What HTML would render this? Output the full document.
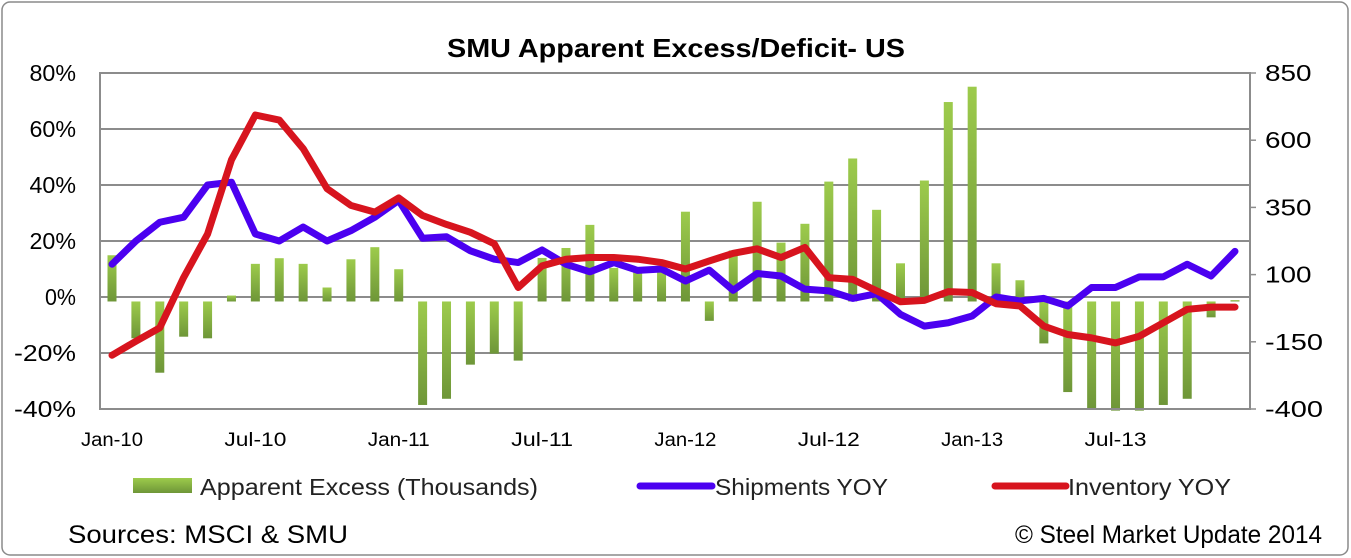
<!DOCTYPE html>
<html><head><meta charset="utf-8"><style>
body{margin:0;background:#fff;}
svg{display:block;font-family:"Liberation Sans",sans-serif;}
</style></head><body>
<svg id="c" width="1351" height="558">
<defs><linearGradient id="g" x1="0" y1="0" x2="0" y2="1"><stop offset="0" stop-color="#9DCB4C"/><stop offset="1" stop-color="#6E9638"/></linearGradient></defs>
<rect x="2" y="2" width="1346" height="553" rx="8" fill="#fff" stroke="#8a8a8a" stroke-width="1.5"/>
<text x="447" y="57" textLength="458" lengthAdjust="spacingAndGlyphs" font-size="26" font-weight="bold">SMU Apparent Excess/Deficit- US</text>
<g id="grid"></g><g id="bars"></g><g id="lines"></g><g id="axes"></g>
<g>
<rect x="133" y="478" width="59" height="15" fill="url(#g)"/>
<text x="200" y="495" textLength="338" lengthAdjust="spacingAndGlyphs" font-size="23" fill="#222">Apparent Excess (Thousands)</text>
<line x1="640" y1="486" x2="712" y2="486" stroke="#4B00F0" stroke-width="7" stroke-linecap="round"/>
<text x="715" y="495" textLength="173" lengthAdjust="spacingAndGlyphs" font-size="23" fill="#222">Shipments YOY</text>
<line x1="995" y1="486" x2="1066" y2="486" stroke="#D7141E" stroke-width="7" stroke-linecap="round"/>
<text x="1068" y="495" textLength="163" lengthAdjust="spacingAndGlyphs" font-size="23" fill="#222">Inventory YOY</text>
</g>
<text x="68" y="543" textLength="280" lengthAdjust="spacingAndGlyphs" font-size="25">Sources: MSCI &amp; SMU</text>
<text x="1015" y="543" textLength="307" lengthAdjust="spacingAndGlyphs" font-size="25">© Steel Market Update 2014</text>
</svg>
<script>
const excess=[172,-137,-265,-131,-137,22,140,161,140,52,157,202,120,-385,-362,-235,-194,-220,162,199,285,125,125,112,334,-72,190,371,219,289,446,532,341,142,450,742,799,142,79,-156,-337,-400,-406,-406,-385,-362,-59,5];
const shipments=[11.7,20,26.7,28.5,40,41,22.5,20,25,20,23.7,28.5,34.5,21,21.5,16.5,13.5,12.3,16.8,11.7,9,12.3,9.5,10,5.7,9.6,2.4,8.4,7.5,2.8,2.2,-0.5,1.2,-6.2,-10.4,-9.2,-6.8,0,-1.4,-0.5,-3.2,3.4,3.4,7.2,7.2,11.7,7.5,16.3];
const inventory=[-20.8,-15.8,-11,7,22.5,49,65,63.2,53,38.7,32.7,30.3,35.4,29.1,25.9,23.1,19,3.4,11.1,13.5,14.1,14.1,13.5,12.3,10,12.9,15.6,17.2,14.1,17.7,6.9,6.3,2.2,-1.7,-1.2,1.9,1.6,-2.4,-3.2,-10.4,-13.4,-14.6,-16.4,-14,-9.2,-4.4,-3.6,-3.6];
const leftTicks=[80,60,40,20,0,-20,-40];
const rightTicks=[850,600,350,100,-150,-400];
const xLabels=["Jan-10","Jul-10","Jan-11","Jul-11","Jan-12","Jul-12","Jan-13","Jul-13"];
const NS="http://www.w3.org/2000/svg";
const L=100,R=1250,T=73,B=409;
const x=i=>112+i*(1235-112)/47;
const yL=v=>T+(80-v)*(B-T)/120;
const yR=v=>T+(850-v)*(B-T)/1250;
function mk(tag,at,parent){const e=document.createElementNS(NS,tag);for(const k in at)e.setAttribute(k,at[k]);document.getElementById(parent).appendChild(e);return e;}
leftTicks.forEach(v=>{
  if(v!==80&&v!==-40){const g=mk('line',{x1:L,x2:R,y1:yL(v),y2:yL(v),stroke:'#8c8c8c','stroke-width':2},'grid');
  
  }
  const s=v+'%';
  const t=mk('text',{x:76,y:yL(v)+8,'text-anchor':'end','font-size':23,textLength:s.length*15.5,lengthAdjust:'spacingAndGlyphs'},'axes');t.textContent=s;
  
  
});
rightTicks.forEach(v=>{
  const s=String(v);
  const t=mk('text',{x:1265,y:yR(v)+8,'font-size':23,textLength:s.length*15.5+(v<0?-4:0),lengthAdjust:'spacingAndGlyphs'},'axes');t.textContent=s;
  
  
  const k=mk('line',{x1:R,x2:R+6,y1:yR(v),y2:yR(v),stroke:'#8c8c8c','stroke-width':1.5},'axes');
  
  
});
const fr=mk('rect',{x:L,y:T,width:R-L,height:B-T,fill:'none',stroke:'#8c8c8c','stroke-width':2},'axes');


xLabels.forEach((s,j)=>{
  const t=mk('text',{x:x(j*6),y:446,'text-anchor':'middle','font-size':19,textLength:62,lengthAdjust:'spacingAndGlyphs'},'axes');t.textContent=s;
  
  
});
excess.forEach((v,i)=>{
  const y0=yR(0),y1=yR(v);
  const b=mk('rect',{x:x(i)-4.5,y:Math.min(y0,y1),width:9,height:Math.max(1,Math.abs(y1-y0)),fill:'url(#g)'},'bars');
  
  
});
[[shipments,'#4B00F0','shipments-line'],[inventory,'#D7141E','inventory-line']].forEach(([d,c,n])=>{
  const p=mk('polyline',{points:d.map((v,i)=>x(i)+','+yL(v)).join(' '),fill:'none',stroke:c,'stroke-width':7,'stroke-linejoin':'round','stroke-linecap':'round'},'lines');
  
  
});
</script>
</body></html>
